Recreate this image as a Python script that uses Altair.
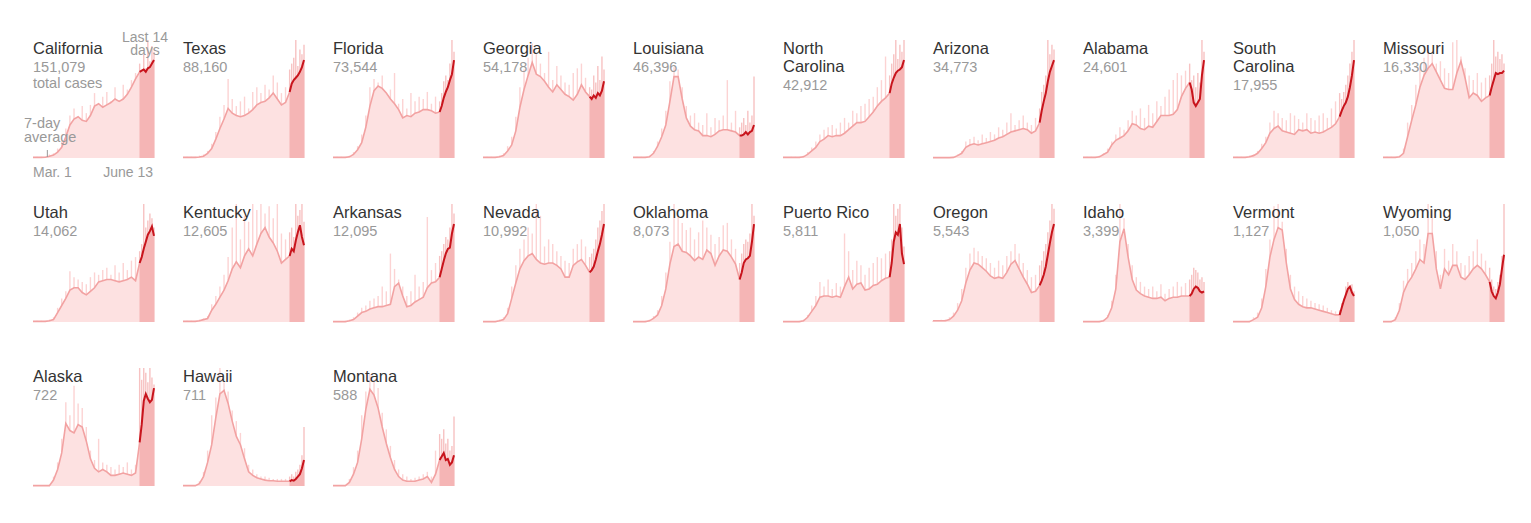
import altair as alt
import pandas as pd

DAYS = [0, 4, 8, 12, 16, 20, 24, 28, 32, 36, 40, 44, 48, 52, 56, 60, 64, 68, 72, 76,
        80, 84, 88, 92, 96, 100, 104, 106, 108, 110, 112, 114, 116, 118]
LAST14_START = 104
DAY_MAX = 118

STATES = ["California", "Texas", "Florida", "Georgia", "Louisiana", "North\nCarolina",
          "Arizona", "Alabama", "South\nCarolina", "Missouri",
          "Utah", "Kentucky", "Arkansas", "Nevada", "Oklahoma", "Puerto Rico",
          "Oregon", "Idaho", "Vermont", "Wyoming",
          "Alaska", "Hawaii", "Montana"]
TOTALS = ["151,079", "88,160", "73,544", "54,178", "46,396", "42,912", "34,773", "24,601",
          "17,955", "16,330", "14,062", "12,605", "12,095", "10,992", "8,073", "5,811",
          "5,543", "3,399", "1,127", "1,050", "722", "711", "588"]

# 7-day average and daily cases, in percent of each panel's own height
california_avg = [0.5,0.5,0.5,0.6,1.5,2.5,5,9,18, 28,33,35,32,31,36,44,46,43, 45,47,50,48,50,54,60,67,73, 74,75,73,76,77,80,83]
california_bar = [0,1,1,1,3,4,8,14,25, 36,42,30,44,38,45,55,40,52, 56,48,60,45,62,58,66,72,80, 70,88,76,100,82,95,90]
texas_avg = [0.5,0.5,0.5,0.5,0.8,1.5,4,8,16, 25,33,42,38,36,35,36,38,41, 45,47,48,51,55,50,45,47,56, 63,66,68,70,73,77,83]
texas_bar = [0,1,1,1,2,3,6,12,22, 35,45,67,50,44,48,52,42,56, 60,55,62,58,70,64,55,60,75, 80,85,100,78,92,88,96]
florida_avg = [0.5,0.5,0.5,0.5,1,3,7,13,26, 44,57,61,59,55,50,46,41,34, 36,35,38,39,41,41,40,38,39, 44,51,56,60,66,71,83]
florida_bar = [0,1,1,1,2,5,10,20,36, 60,67,64,70,48,58,72,46,50, 42,55,48,52,50,56,46,52,48, 55,65,70,66,80,100,90]
georgia_avg = [0.5,0.5,0.5,0.5,1,2,6,11,23, 43,58,70,81,71,69,65,60,56, 62,58,54,52,49,54,62,56,52, 50,53,51,55,53,57,65]
georgia_bar = [0,1,1,1,2,4,10,18,35, 60,75,85,97,88,80,72,90,66, 78,70,64,62,72,76,80,68,60, 58,70,64,78,66,86,75]
louisiana_avg = [0.5,0.5,0.5,0.5,1,4,10,18,28, 48,69,69,50,34,27,24,23,19, 19,18,20,23,24,24,23,22,19, 19,20,22,20,22,23,28]
louisiana_bar = [0,1,1,1,2,6,14,25,40, 65,77,75,60,44,36,38,30,28, 38,26,34,32,36,66,30,40,26, 30,34,28,40,30,36,69]
ncarolina_avg = [0.5,0.5,0.5,0.5,0.5,1,3,6,9, 14,16,19,18,19,19,21,24,27, 30,30,31,35,39,44,48,51,55, 63,68,72,74,75,77,83]
ncarolina_bar = [0,0.5,1,1,1,2,5,9,14, 20,24,26,28,25,30,34,30,40, 38,44,46,50,52,60,66,86,70, 80,88,100,84,96,90,100]
arizona_avg = [0.3,0.3,0.3,0.3,0.3,0.5,2,4,9, 11,12,11,12,13,14,15,17,18, 20,22,23,24,25,24,21,23,30, 40,48,55,65,73,78,83]
arizona_bar = [0,0.5,0.5,0.5,0.5,1,3,6,14, 16,18,15,20,17,22,20,26,24, 30,38,28,32,36,30,28,34,42, 56,62,70,100,88,96,92]
alabama_avg = [0.5,0.5,0.5,0.5,1,3,5,11,15, 17,19,23,29,28,25,24,27,26, 31,36,36,36,37,41,52,59,64, 58,47,44,47,50,70,83]
alabama_bar = [0,1,1,1,2,4,8,14,20, 26,24,32,40,36,42,34,45,38, 48,44,52,58,66,72,70,74,80, 66,70,60,72,64,100,90]
scarolina_avg = [0.5,0.5,0.5,0.5,1,2,4,8,13, 21,25,27,23,22,21,20,24,23, 24,21,22,21,22,24,26,29,35, 40,44,47,52,60,70,83]
scarolina_bar = [0,1,1,1,2,3,6,12,18, 30,40,38,34,32,38,36,33,30, 38,34,32,36,38,34,42,48,55, 50,56,62,70,80,90,100]
missouri_avg = [0.5,0.5,0.5,0.5,1,4,18,32,45, 60,70,76,80,73,66,59,58,58, 72,82,68,51,55,53,48,51,53, 60,66,72,71,72,72,74]
missouri_bar = [0,1,1,1,2,8,30,45,62, 78,85,92,88,80,82,76,72,98, 100,86,76,70,66,72,64,68,70, 80,100,86,90,84,88,80]
utah_avg = [0.5,0.5,0.5,0.5,1,2,8,14,20, 27,29,29,25,23,26,29,34,35, 36,36,35,34,35,36,38,35,50, 55,62,68,74,77,81,73]
utah_bar = [0,1,1,1,2,4,12,20,26, 43,38,36,34,32,38,42,40,44, 46,40,48,42,50,44,52,55,60, 66,100,80,86,92,88,80]
kentucky_avg = [0.5,0.5,0.5,0.5,1,2,3,10,15, 21,27,35,45,51,46,56,62,56, 66,75,80,72,67,60,50,53,56, 62,60,69,76,82,72,65]
kentucky_bar = [0,1,1,1,2,3,5,15,22, 30,40,55,80,100,70,90,85,100, 95,100,92,98,88,100,75,70,76, 80,72,100,90,95,100,85]
arkansas_avg = [0.3,0.3,0.3,0.3,1,2,5,8,9, 11,12,13,13,14,15,30,33,22, 13,14,17,19,21,29,33,34,38, 45,52,58,62,63,75,83]
arkansas_bar = [0,0.5,0.5,1,2,4,8,12,14, 18,20,22,30,26,58,45,36,30, 22,26,40,30,34,89,44,50,56, 60,66,72,70,80,100,92]
nevada_avg = [0.3,0.3,0.3,0.3,1,2,7,20,33, 45,52,56,58,53,50,49,50,50, 48,45,38,38,48,51,53,48,42, 44,47,53,60,66,74,83]
nevada_bar = [0,0.5,0.5,0.5,2,4,12,30,48, 62,70,80,75,100,90,64,70,66, 60,56,52,50,62,66,70,64,55, 58,62,70,80,86,94,100]
oklahoma_avg = [0.3,0.3,0.3,0.3,1,3,6,14,28, 49,64,66,60,59,56,52,55,53, 61,58,48,56,61,60,55,49,36, 42,50,53,54,56,68,83]
oklahoma_bar = [0,0.5,0.5,1,2,5,10,22,42, 68,100,90,84,78,80,70,76,86, 80,74,66,72,82,84,70,62,50, 58,66,70,68,75,100,90]
puertorico_avg = [0.3,0.3,0.3,0.3,0.3,1,4,9,14, 21,22,22,21,22,21,30,38,28, 32,33,27,28,31,32,35,37,38, 50,68,76,74,83,58,49]
puertorico_bar = [0,0.5,0.5,0.5,1,2,6,14,22, 34,30,36,28,33,30,75,60,44, 52,48,40,46,50,55,54,58,60, 70,100,90,96,100,80,64]
oregon_avg = [1,1,1,1,2,5,10,18,33, 44,50,49,46,43,39,37,38,37, 42,49,52,45,38,32,25,26,31, 35,40,47,57,67,76,83]
oregon_bar = [1,1,2,2,4,8,16,28,46, 58,63,60,56,54,50,46,52,48, 56,60,66,58,50,44,38,40,48, 52,60,66,76,86,100,96]
idaho_avg = [0.3,0.3,0.3,0.3,0.3,1,4,12,28, 68,79,55,36,27,24,22,21,20, 20,21,18,20,21,21,22,22,22, 24,28,30,29,26,25,26]
idaho_bar = [0,0.5,0.5,0.5,1,2,6,18,40, 100,88,66,48,38,34,30,28,30, 26,32,24,28,30,34,30,33,36, 40,46,44,42,36,38,34]
vermont_avg = [0.3,0.3,0.3,0.3,0.3,2,4,12,30, 55,70,80,78,50,28,19,15,13, 12,12,11,10,9,8,7,6,6, 12,18,23,28,30,25,22]
vermont_bar = [0,0.5,0.5,0.5,1,4,8,20,45, 70,98,100,85,62,40,30,26,22, 20,18,16,15,14,12,10,9,10, 16,20,30,34,28,32,26]
wyoming_avg = [0.3,0.3,0.3,2,10,25,33,38,45, 53,50,75,75,45,28,45,40,48, 48,38,36,40,45,48,45,40,34, 26,22,20,25,32,45,57]
wyoming_bar = [0,0.5,1,4,16,35,45,50,60, 70,66,100,95,60,40,62,52,66, 60,50,48,56,60,70,58,52,46, 36,30,28,34,40,56,100]
alaska_avg = [0.3,0.3,0.3,0.3,0.3,5,14,28,53, 47,45,52,50,38,23,15,12,14, 12,9,9,10,11,10,9,11,37, 52,72,78,74,71,73,83]
alaska_bar = [0,0.5,0.5,0.5,1,8,20,40,71, 60,85,70,66,50,30,22,40,20, 18,16,14,18,16,20,14,18,100, 90,100,96,88,100,92,86]
hawaii_avg = [0.3,0.3,0.3,0.3,2,8,20,35,58, 78,81,70,55,42,35,23,12,9, 7,6,5,4.5,4.5,4,4,4,4, 5,4.5,6,8,10,15,22]
hawaii_bar = [0,0.5,0.5,0.5,4,12,30,60,75, 100,88,80,64,55,45,32,18,14, 10,8,8,7,6,6,6,6,8, 10,8,12,14,18,26,50]
montana_avg = [0.3,0.3,0.3,0.3,3,10,20,40,65, 82,77,66,50,36,24,14,8,5, 4,4,4,5,6,8,3,10,22, 25,28,22,23,18,20,26]
montana_bar = [0,0.5,0.5,0.5,6,16,30,60,80, 95,90,83,62,48,34,22,14,10, 8,6,7,8,10,12,8,30,44, 40,48,36,40,30,34,59]

AVGS = [california_avg, texas_avg, florida_avg, georgia_avg, louisiana_avg, ncarolina_avg,
        arizona_avg, alabama_avg, scarolina_avg, missouri_avg, utah_avg, kentucky_avg,
        arkansas_avg, nevada_avg, oklahoma_avg, puertorico_avg, oregon_avg, idaho_avg,
        vermont_avg, wyoming_avg, alaska_avg, hawaii_avg, montana_avg]
BARS = [california_bar, texas_bar, florida_bar, georgia_bar, louisiana_bar, ncarolina_bar,
        arizona_bar, alabama_bar, scarolina_bar, missouri_bar, utah_bar, kentucky_bar,
        arkansas_bar, nevada_bar, oklahoma_bar, puertorico_bar, oregon_bar, idaho_bar,
        vermont_bar, wyoming_bar, alaska_bar, hawaii_bar, montana_bar]

W, H = 121, 118
FONT = "Liberation Sans"
GRAY = "#999999"
XS = alt.Scale(domain=[0, DAY_MAX], nice=False, zero=False, padding=0)
YS = alt.Scale(domain=[0, 100], nice=False, clamp=True)


def panel(name, total, avg, bar, first=False):
    df = pd.DataFrame({"day": DAYS, "avg": avg, "bar": bar})
    base = alt.Chart(df)
    x = alt.X("day:Q", scale=XS, axis=None)
    ya = alt.Y("avg:Q", scale=YS, axis=None)
    yb = alt.Y("bar:Q", scale=YS, axis=None)
    early = f"datum.day <= {LAST14_START}"
    late = f"datum.day >= {LAST14_START}"
    layers = [
        base.transform_filter(f"datum.day < {LAST14_START}").mark_bar(width=1.4, color="#fcd3d3").encode(x=x, y=yb),
        base.transform_filter(late).mark_bar(width=1.4, color="#f7c2c2").encode(x=x, y=yb),
        base.transform_filter(early).mark_area(color="#fde1e1").encode(x=x, y=ya),
        base.transform_filter(late).mark_area(color="#f5b5b5").encode(x=x, y=ya),
        base.transform_filter(early).mark_line(color="#f2a2a2", strokeWidth=1.6).encode(x=x, y=ya),
        base.transform_filter(late).mark_line(color="#c8141c", strokeWidth=2).encode(x=x, y=ya),
    ]
    nlines = name.count("\n") + 1
    layers.append(
        alt.Chart(pd.DataFrame({"t": [name]})).mark_text(
            align="left", baseline="alphabetic", font=FONT, fontSize=16.5, color="#333333",
            lineBreak="\n", lineHeight=18).encode(text="t:N", x=alt.value(0), y=alt.value(14))
    )
    sub = total + ("\ntotal cases" if first else "")
    layers.append(
        alt.Chart(pd.DataFrame({"t": [sub]})).mark_text(
            align="left", baseline="alphabetic", font=FONT, fontSize=14.5, color=GRAY,
            lineBreak="\n", lineHeight=16).encode(text="t:N", x=alt.value(0), y=alt.value(32 + 18 * (nlines - 1)))
    )
    if first:
        ann = pd.DataFrame({"t": ["Last 14\ndays"]})
        layers.append(alt.Chart(ann).mark_text(
            align="center", baseline="alphabetic", font=FONT, fontSize=14, color=GRAY,
            lineBreak="\n", lineHeight=13.5).encode(text="t:N", x=alt.value(112), y=alt.value(1.5)))
        ann2 = pd.DataFrame({"t": ["7-day\naverage"]})
        layers.append(alt.Chart(ann2).mark_text(
            align="left", baseline="alphabetic", font=FONT, fontSize=14.5, color=GRAY,
            lineBreak="\n", lineHeight=14.5).encode(text="t:N", x=alt.value(-9), y=alt.value(87.5)))
        layers.append(alt.Chart(pd.DataFrame({"d": [14]})).mark_rule(color=GRAY, strokeWidth=1).encode(
            x=alt.X("d:Q", scale=XS, axis=None), y=alt.value(110), y2=alt.value(117)))
        layers.append(alt.Chart(pd.DataFrame({"t": ["Mar. 1"]})).mark_text(
            align="left", baseline="alphabetic", font=FONT, fontSize=14, color=GRAY).encode(
            text="t:N", x=alt.value(0), y=alt.value(136.5)))
        layers.append(alt.Chart(pd.DataFrame({"t": ["June 13"]})).mark_text(
            align="right", baseline="alphabetic", font=FONT, fontSize=14, color=GRAY).encode(
            text="t:N", x=alt.value(120), y=alt.value(136.5)))
    return alt.layer(*layers).properties(width=W, height=H)


panels = [panel(STATES[i], TOTALS[i], AVGS[i], BARS[i], first=(i == 0)) for i in range(len(STATES))]

chart = alt.concat(*panels, columns=10, spacing={"row": 46, "column": 29}, bounds="flush").properties(
    padding={"left": 16, "top": 22, "right": 5, "bottom": 5},
).configure_view(stroke=None)

chart.save("out.html", embed_options={"renderer": "svg", "actions": False})
